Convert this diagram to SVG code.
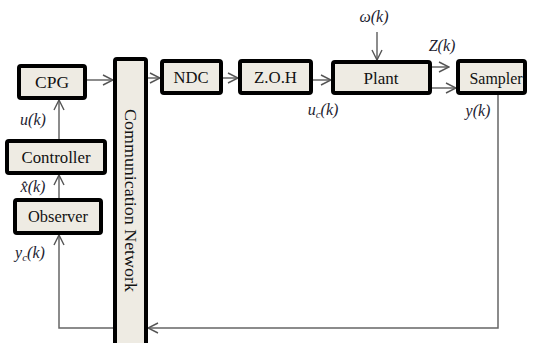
<svg xmlns="http://www.w3.org/2000/svg" width="537" height="343" viewBox="0 0 537 343">
<defs>
<marker id="arr" viewBox="0 0 12 12" refX="11" refY="6" markerWidth="12" markerHeight="12" markerUnits="userSpaceOnUse" orient="auto">
<path d="M1,1 L11,6 L1,11" fill="none" stroke="#555" stroke-width="1.4"/>
</marker>
<style>
.box{fill:#eeebe3;stroke:#000;stroke-width:4;}
.lbl{font-family:'Liberation Serif','DejaVu Serif',serif;font-size:16px;fill:#111;text-anchor:middle;}
.math{font-family:'Liberation Serif','DejaVu Serif',serif;font-style:italic;font-size:16px;fill:#1c1c30;text-anchor:middle;}
.ln{fill:none;stroke:#666;stroke-width:1.5;}
</style>
</defs>
<rect width="537" height="343" fill="#fff"/>
<g id="connectors">
<line class="ln" x1="87" y1="80" x2="113" y2="80" marker-end="url(#arr)"/>
<line class="ln" x1="148" y1="78" x2="160" y2="78" marker-end="url(#arr)"/>
<line class="ln" x1="223" y1="78" x2="238" y2="78" marker-end="url(#arr)"/>
<line class="ln" x1="313" y1="80" x2="331" y2="80" marker-end="url(#arr)"/>
<line class="ln" x1="432" y1="67" x2="449" y2="67" marker-end="url(#arr)"/>
<line class="ln" x1="432" y1="88" x2="456" y2="88" marker-end="url(#arr)"/>
<line class="ln" x1="377" y1="32" x2="377" y2="60" marker-end="url(#arr)"/>
<polyline class="ln" points="498,95 498,328 148,328" marker-end="url(#arr)"/>
<polyline class="ln" points="113,328 59,328 59,235" marker-end="url(#arr)"/>
<line class="ln" x1="59" y1="198" x2="59" y2="175" marker-end="url(#arr)"/>
<line class="ln" x1="59" y1="139" x2="59" y2="100" marker-end="url(#arr)"/>
</g>
<g id="cpg"><rect class="box" x="19" y="66" width="66" height="32" rx="2"/><text class="lbl" font-family="Liberation Serif, serif" x="52" y="88" textLength="34" lengthAdjust="spacingAndGlyphs">CPG</text></g>
<g id="controller"><rect class="box" x="7" y="141" width="98" height="32" rx="2"/><text class="lbl" font-family="Liberation Serif, serif" x="56" y="163" textLength="69" lengthAdjust="spacingAndGlyphs">Controller</text></g>
<g id="observer"><rect class="box" x="15" y="200" width="86" height="33" rx="2"/><text class="lbl" font-family="Liberation Serif, serif" x="58" y="222" textLength="60" lengthAdjust="spacingAndGlyphs">Observer</text></g>
<g id="network"><rect class="box" x="115" y="59" width="31" height="290" rx="2"/><text class="lbl" font-family="Liberation Serif, serif" transform="translate(125,200.5) rotate(90)" x="0" y="0" font-size="17" textLength="183" lengthAdjust="spacingAndGlyphs">Communication Network</text></g>
<g id="ndc"><rect class="box" x="162" y="61" width="59" height="32" rx="2"/><text class="lbl" font-family="Liberation Serif, serif" x="191" y="83" textLength="35" lengthAdjust="spacingAndGlyphs">NDC</text></g>
<g id="zoh"><rect class="box" x="240" y="61" width="71" height="32" rx="2"/><text class="lbl" font-family="Liberation Serif, serif" x="275.5" y="83" textLength="43" lengthAdjust="spacingAndGlyphs">Z.O.H</text></g>
<g id="plant"><rect class="box" x="333" y="62" width="97" height="31" rx="2"/><text class="lbl" font-family="Liberation Serif, serif" x="381" y="84" textLength="35" lengthAdjust="spacingAndGlyphs">Plant</text></g>
<g id="sampler"><rect class="box" x="458" y="61" width="67" height="32" rx="2"/><text class="lbl" font-family="Liberation Serif, serif" x="496" y="84" textLength="53" lengthAdjust="spacingAndGlyphs">Sampler</text></g>
<g id="labels" font-family="Liberation Serif, serif">
<text class="math" x="33" y="125">u(k)</text>
<text class="math" x="33" y="192">x̂(k)</text>
<text class="math" x="30" y="258">y<tspan font-size="11" dy="3">c</tspan><tspan dy="-3">(k)</tspan></text>
<text class="math" x="374" y="22" font-size="13">ω(k)</text>
<text class="math" x="442" y="51">Z(k)</text>
<text class="math" x="323" y="115">u<tspan font-size="11" dy="3">c</tspan><tspan dy="-3">(k)</tspan></text>
<text class="math" x="478" y="116">y(k)</text>
</g>
</svg>
